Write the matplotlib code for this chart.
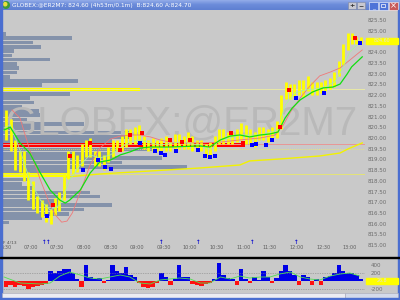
import numpy as np
import matplotlib.pyplot as plt
from matplotlib.patches import Rectangle, Circle
from matplotlib.colors import LinearSegmentedColormap

W, H = 400, 300


def px_box(x0, y0, x1, y1):
    # pixel box (top-left origin) -> figure fraction
    return [x0 / W, 1 - y1 / H, (x1 - x0) / W, (y1 - y0) / H]


# ---- data (t = minutes after 06:30, 5 minute bins) ----
bar_hi = [821.3, 820.9, 819.9, 819.4, 819.4, 818.4, 818.0, 817.3, 817.1, 816.9,
          816.7, 817.2, 817.5, 818.3, 819.4, 819.4, 819.2, 819.7, 819.9, 820.0,
          819.4, 819.4, 819.2, 819.6, 819.9, 819.9, 820.1, 820.4, 820.4, 820.5,
          820.6, 820.1, 819.9, 820.0, 819.9, 820.0, 820.1, 820.0, 820.2, 820.2,
          820.1, 820.3, 820.1, 819.9, 819.9, 819.7, 819.8, 820.1, 820.4, 820.4,
          820.3, 820.3, 820.4, 820.7, 820.6, 820.4, 820.3, 820.5, 820.5, 820.4,
          820.5, 820.8, 822.0, 822.6, 822.5, 822.5, 822.7, 822.7, 822.9, 822.6,
          822.6, 822.6, 822.7, 822.8, 823.1, 823.6, 824.4, 824.9, 824.9, 824.7,
          824.7]
bar_lo = [819.9, 819.4, 818.5, 818.4, 818.0, 817.1, 816.7, 816.5, 816.3, 816.1,
          816.0, 816.4, 816.6, 817.1, 818.1, 818.3, 818.4, 818.7, 819.1, 819.1,
          818.7, 818.7, 818.5, 818.9, 819.1, 819.4, 819.4, 819.6, 819.7, 819.7,
          819.7, 819.5, 819.4, 819.4, 819.4, 819.4, 819.4, 819.4, 819.5, 819.5,
          819.5, 819.5, 819.4, 819.4, 819.4, 819.1, 819.2, 819.4, 819.7, 819.7,
          819.7, 819.7, 819.8, 819.9, 819.7, 819.7, 819.6, 819.9, 819.9, 819.8,
          819.9, 820.0, 820.4, 821.8, 821.8, 821.9, 822.0, 821.9, 822.2, 822.0,
          822.0, 822.1, 822.2, 822.3, 822.4, 822.9, 823.4, 824.1, 824.4, 824.4,
          824.4]

osc = [-150, -100, -150, -100, -120, -200, -150, -120, -100, -80,
       250, 200, 250, 300, 300, 200, 50, -150, 400, 100,
       50, 80, -50, 30, 400, 250, 200, 350, 150, 100,
       -50, -150, -180, -150, -60, 200, 100, -100, 50, 400,
       100, 100, -80, -100, -120, -80, -50, 50, 450, 150,
       80, 50, -100, 300, 50, -60, 100, 30, 250, 100,
       -50, 80, 250, 400, 250, 150, -100, 150, 100, -100,
       50, -100, 100, 120, 200, 400, 250, 200, 200, 150, 50]

osc_line_t = [0, 18, 41, 52, 63, 74, 86, 97, 108, 131, 142, 153, 165, 176, 198, 210, 221,
              232, 244, 255, 266, 277, 289, 300, 311, 323, 334, 345, 356, 368, 379, 390, 401]
osc_line_v = [100, -50, -75, -50, 125, 225, 150, 75, 50, 150, 100, -50, -75, 25, 75, 50, -50,
              -50, 100, 50, 125, 75, 100, 100, 175, 225, 100, 50, 25, 125, 175, 200, 125]

red_t = [9, 18, 29, 41, 52, 58, 65, 71, 77, 86, 97, 108, 120, 131, 142, 153, 165, 176,
         187, 198, 221, 244, 266, 289, 306, 315, 323, 334, 345, 356, 368, 379, 390, 404]
red_p = [821.31, 820.93, 819.44, 818.04, 816.87, 816.40, 816.07, 816.12, 816.50, 817.48,
         818.74, 819.53, 819.95, 820.09, 820.14, 820.14, 820.05, 819.91, 819.81, 819.77,
         819.77, 819.81, 819.91, 820.00, 820.14, 820.61, 821.21, 821.87, 822.43, 822.90,
         823.08, 823.27, 823.64, 824.11]

green_t = [0, 7, 18, 29, 41, 52, 63, 69, 74, 86, 97, 108, 120, 131, 142, 153, 165, 187,
           221, 232, 244, 255, 266, 277, 289, 300, 309, 317, 325, 334, 348, 360, 371, 379,
           387, 392, 404]
green_p = [820.37, 820.51, 819.77, 819.30, 818.36, 817.57, 817.10, 816.96, 817.10, 817.57,
           818.36, 818.88, 818.97, 819.21, 819.35, 819.53, 819.58, 819.58, 819.63, 819.58,
           819.91, 820.09, 820.14, 820.05, 820.14, 820.19, 820.28, 820.93, 821.40, 821.78,
           822.15, 822.34, 822.38, 822.52, 822.99, 823.32, 823.79]

fast_t = [0, 7, 18, 29, 41, 52, 63, 74, 86, 97, 108, 120, 131, 142, 153, 165, 176, 198,
          221, 232, 244, 255, 266, 289, 309, 317, 328, 339, 351, 362, 373, 381, 390, 398, 404]
fast_p = [820.47, 820.61, 819.44, 818.04, 817.10, 816.64, 816.87, 818.04, 818.74, 819.21,
          819.07, 819.21, 819.53, 819.81, 819.91, 819.77, 819.67, 819.81, 819.67, 819.44,
          819.91, 820.00, 820.14, 820.14, 820.37, 821.54, 822.10, 822.24, 822.29, 822.38,
          822.62, 823.18, 824.02, 824.35, 824.39]

vwap_t = [71, 108, 165, 221, 266, 277, 311, 356, 379, 388, 396, 404]
vwap_p = [818.18, 818.32, 818.46, 818.60, 818.74, 818.93, 819.02, 819.16, 819.30, 819.49,
          819.63, 819.77]

blue_t = [48, 89, 106, 114, 121, 153, 170, 177, 182, 194, 219, 227, 232, 238, 280, 284,
          295, 302, 329, 361, 401]
blue_p = [816.36, 818.50, 818.97, 818.64, 818.55, 819.77, 819.39, 819.30, 819.21, 819.39,
          819.44, 819.16, 819.11, 819.16, 819.67, 819.72, 819.67, 819.91, 821.87, 822.10,
          824.44]
redsq_t = [55, 74, 97, 131, 142, 156, 187, 201, 210, 256, 270, 311, 321, 396]
redsq_p = [816.87, 819.16, 819.77, 819.44, 820.14, 820.23, 819.91, 819.81, 819.91, 820.23,
           819.77, 820.51, 822.24, 824.67]

# volume profile, 0.2 point levels from the top down
profile_vol = [4, 70, 31, 39, 12, 10, 48, 15, 17, 15, 8, 76, 40, 138, 68, 28, 32, 20, 37,
               38, 25, 82, 40, 128, 130, 110, 243, 150, 110, 160, 120, 185, 67, 67, 27, 20,
               32, 88, 98, 58, 110, 82, 67, 40, 7]
profile_top = 824.9
hl_yellow = [822.3, 818.3]
hl_red = 819.7

price_ticks = [815.0, 815.5, 816.0, 816.5, 817.0, 817.5, 818.0, 818.5, 819.0, 819.5, 820.0,
               820.5, 821.0, 821.5, 822.0, 822.5, 823.0, 823.5, 824.0, 825.0, 825.5]
time_ticks = [0, 30, 60, 90, 120, 150, 180, 210, 240, 270, 300, 330, 360, 390]
time_labels = ['6:30', '07:00', '07:30', '08:00', '08:30', '09:00', '09:30', '10:00',
               '10:30', '11:00', '11:30', '12:00', '12:30', '13:00']
arrow_t = [45, 50, 177, 219, 280, 330]

bg = '#C9C9C9'
t_min, t_max = -2.3, 407.1
p_min, p_max = 814.49, 825.93

fig = plt.figure(figsize=(4, 3), dpi=100, facecolor=bg)

# ---- volume profile + watermark (behind) ----
box = px_box(2, 11, 365, 256)
axp = fig.add_axes(box, zorder=0)
axp.set_xlim(0, 363)
axp.set_ylim(p_min, p_max)
axp.axis('off')
axp.text(0.496, 0.54, 'GLOBEX:@ER2M7', transform=axp.transAxes, fontsize=29,
         family='Liberation Sans', color='#B9B9B9', ha='center', va='center')
levels = np.round(profile_top - 0.2 * np.arange(len(profile_vol)), 1)
cols = []
for lv in levels:
    if lv in hl_yellow:
        cols.append('#FFFF00')
    elif lv == hl_red:
        cols.append('#FF0000')
    else:
        cols.append('#8492AA')
axp.barh(levels - 0.04, profile_vol, height=0.17, color=cols, linewidth=0)

# ---- price panel ----
ax = fig.add_axes(box, zorder=1)
ax.patch.set_alpha(0)
ax.set_xlim(t_min, t_max)
ax.set_ylim(p_min, p_max)
for s in ax.spines.values():
    s.set_visible(False)
ax.set_xticks([])
ax.yaxis.tick_right()
ax.set_yticks(price_ticks)
ax.set_yticklabels(['%.2f' % v for v in price_ticks])
ax.tick_params(axis='y', length=0, pad=2, labelsize=4, labelcolor='#6C6C6C')

ax.axhline(hl_yellow[0], color='#EDEDA0', lw=0.6, zorder=1)
ax.axhline(hl_yellow[1], color='#E8E86A', lw=0.6, zorder=1)
ax.axhline(hl_red, color='#E89696', lw=0.7, zorder=1)
ax.axhline(819.5, color='#F0F060', lw=0.6, ls=(0, (1, 1.5)), zorder=1)
ax.plot(vwap_t, vwap_p, color='#F2F200', lw=1.0, zorder=2)

t_bin = np.arange(len(bar_hi)) * 5 + 2.5
ax.vlines(t_bin, bar_lo, bar_hi, color='#FFFF00', lw=2.0, zorder=3)
ax.plot(red_t, red_p, color='#F07878', lw=0.6, zorder=4)
ax.plot(fast_t, fast_p, color='#A8F0A0', lw=0.6, zorder=4)
ax.plot(green_t, green_p, color='#10E010', lw=0.9, zorder=4)
ax.plot(blue_t, blue_p, 's', color='#0000FF', ms=2.4, mew=0, zorder=5)
ax.plot(redsq_t, redsq_p, 's', color='#FF0000', ms=2.2, mew=0, zorder=5)

xt = ax.get_xaxis_transform()
for t, lab in zip(time_ticks, time_labels):
    ax.text(max(t, 2.5), 0.033, lab, transform=xt, fontsize=3.6, color='#5E5E5E',
            ha='center', va='center')
for t in arrow_t:
    ax.text(t, 0.055, '\u2191', transform=xt, fontsize=4, color='#1010D0',
            fontweight='bold', ha='center', va='center')
ax.text(-1.2, 0.055, 'F 4/13', transform=xt, fontsize=3.2, color='#505050',
        ha='left', va='center')

# ---- oscillator panel ----
axl = fig.add_axes(px_box(2, 259, 365, 292), zorder=1)
axl.patch.set_alpha(0)
axl.set_xlim(t_min, t_max)
axl.set_ylim(-275, 550)
for s in axl.spines.values():
    s.set_visible(False)
axl.set_xticks([])
axl.yaxis.tick_right()
axl.set_yticks([400, 200, -200])
axl.set_yticklabels(['400', '200', '-200'])
axl.tick_params(axis='y', length=0, pad=4, labelsize=4, labelcolor='#6C6C6C')
axl.axhline(200, color='#808080', lw=0.5, ls=(0, (1, 1.5)))
axl.axhline(-200, color='#808080', lw=0.5, ls=(0, (1, 1.5)))
osc_cols = ['#0000E6' if v > 0 else '#FF1010' for v in osc]
axl.bar(t_bin, osc, width=5, color=osc_cols, linewidth=0)
axl.plot(osc_line_t, osc_line_v, color='#50E050', lw=0.6)

# ---- window chrome ----
axt = fig.add_axes(px_box(0, 0, 400, 10.5), zorder=2)
grad = np.linspace(0, 1, 20).reshape(-1, 1)
cmap = LinearSegmentedColormap.from_list('tb', ['#9AB2EC', '#6C8CDA', '#5F80D2'])
axt.imshow(grad, aspect='auto', cmap=cmap, extent=[0, 400, 10.5, 0])
axt.set_xlim(0, 400)
axt.set_ylim(10.5, 0)
axt.axis('off')
axt.add_patch(Circle((6, 5), 3.3, color='#3D9A3D'))
axt.add_patch(Circle((5.2, 4.2), 1.6, color='#E8E040'))
axt.text(12, 5.2, 'GLOBEX:@ER2M7: 824.60 (4h53m/0.1m)  B:824.60 A:824.70',
         fontsize=4.2, color='white', ha='left', va='center')
for x0, sym in [(348, '+'), (357, '\u2212')]:
    axt.add_patch(Rectangle((x0, 2), 8, 7, fc='#C8C8D0', ec='#8088A0', lw=0.4))
    axt.text(x0 + 4, 5.6, sym, fontsize=4.5, color='#303030', ha='center', va='center',
             fontweight='bold')
for x0, fc in [(369, '#4F74D8'), (379, '#4F74D8'), (389, '#C85A5A')]:
    axt.add_patch(Rectangle((x0, 1.5), 8.5, 8, fc=fc, ec='white', lw=0.4))
axt.text(373.2, 7.5, '_', fontsize=4.5, color='white', ha='center', va='center')
axt.add_patch(Rectangle((381.2, 3.5), 4.2, 3.8, fc='none', ec='white', lw=0.5))
axt.text(393.2, 5.6, '\u00d7', fontsize=6, color='white', ha='center', va='center')

axf = fig.add_axes([0, 0, 1, 1], zorder=3)
axf.set_xlim(0, W)
axf.set_ylim(H, 0)
axf.axis('off')
axf.add_patch(Rectangle((0, 0), 2, H, color='#4A6ED0'))
axf.add_patch(Rectangle((398, 10), 2, H, color='#4A6ED0'))
axf.add_patch(Rectangle((0, 256.5), W, 1.8, color='black'))
axf.add_patch(Rectangle((2, 293), 343, 5, fc='#ECECF2', ec='#A8A8B8', lw=0.4))
axf.add_patch(Rectangle((345, 293), 53, 5, fc='#D4DAEA', ec='#A8A8B8', lw=0.4))
axf.add_patch(Rectangle((0, 298), W, 2, color='#4A6ED0'))
axf.add_patch(Rectangle((366, 38), 32, 6, color='#FFFF00'))
axf.text(382, 41, '824.60', fontsize=3.4, color='#E0E0E0', ha='center', va='center')
axf.add_patch(Rectangle((366, 278), 32, 6, color='#FFFF00'))
axf.text(382, 281, '26.8', fontsize=3.4, color='#E0E0E0', ha='center', va='center')

fig.savefig('out.png', dpi=100, facecolor=bg)
